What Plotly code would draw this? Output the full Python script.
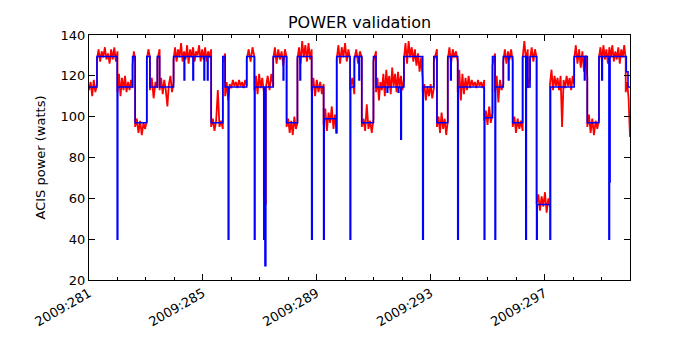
import numpy as np
import plotly.graph_objects as go

# ---- data ----
tick_days = [281, 285, 289, 293, 297]
tick_text = ["2009:281", "2009:285", "2009:289", "2009:293", "2009:297"]

# blue: model step line (day of year, watts)
blue_t = [281.00, 281.28, 281.99, 282.01, 282.53, 282.62, 283.03, 283.14, 283.40, 283.48,
          283.97, 284.34, 284.36, 284.65, 284.67, 285.04, 285.06, 285.16, 285.18, 285.29,
          285.70, 285.78, 285.89, 285.91, 286.54, 286.81, 286.83, 287.14, 287.16, 287.18,
          287.21, 287.47, 287.82, 287.84, 287.94, 288.32, 288.41, 288.43, 288.82, 288.84,
          289.24, 289.26, 289.68, 289.70, 290.17, 290.19, 290.32, 290.48, 290.50, 290.58,
          290.99, 291.08, 291.47, 291.49, 291.86, 291.88, 291.95, 291.97, 292.06, 292.72,
          292.74, 293.11, 293.22, 293.60, 293.70, 293.72, 293.95, 293.97, 294.88, 294.90,
          295.17, 295.26, 295.28, 295.55, 295.73, 295.75, 295.88, 296.23, 296.34, 296.36,
          296.41, 296.49, 296.72, 296.74, 297.19, 297.21, 298.04, 298.40, 298.42, 298.50,
          298.91, 299.01, 299.03, 299.26, 299.28, 299.30, 299.87, 299.93, 300.00]
blue_v = [114.5, 129.5, 40, 114.5, 129.5, 97, 129.5, 114.5, 129.5, 114.5,
          129.5, 118, 129.5, 118, 129.5, 118, 129.5, 118, 129.5, 97,
          129.5, 114.5, 40, 114.5, 129.5, 40, 114.5, 40, 114.5, 27,
          114.5, 129.5, 118, 129.5, 97, 129.5, 118, 129.5, 40, 114.5,
          40, 99, 92, 129.5, 40, 114.5, 129.5, 118, 129.5, 97,
          129.5, 114.5, 112, 114.5, 112, 114.5, 89, 114.5, 129.5, 40,
          114.5, 129.5, 97, 129.5, 118, 129.5, 40, 114.5, 40, 99.5,
          129.5, 40, 114.5, 129.5, 118, 129.5, 97, 129.5, 40, 129.5,
          114.5, 129.5, 40, 57, 40, 114.5, 129.5, 118, 129.5, 97,
          129.5, 118, 129.5, 40, 68, 129.5, 122, 114.5, 114.5]

# red: measured power, read segment by segment (segment bounds in days,
# then the sampled watt readings inside each segment)
red_bounds = [281.00, 281.28, 282.00, 282.53, 282.62, 283.03, 283.14, 283.40, 283.48, 283.97,
              285.29, 285.70, 285.78, 286.54, 286.81, 287.14, 287.21, 287.47, 287.94, 288.32,
              288.82, 289.24, 289.70, 290.17, 290.32, 290.58, 290.99, 291.08, 292.06, 292.72,
              293.11, 293.22, 293.60, 293.95, 294.88, 295.17, 295.26, 295.55, 295.88, 296.23,
              296.41, 296.49, 296.72, 297.19, 298.04, 298.50, 298.91, 299.85, 300.00]
red_vals = [
    [113, 117, 110, 118, 112, 116],
    [128, 133, 127, 132, 129, 134, 128, 131, 126, 133, 128, 134, 127, 132],
    [112, 121, 110, 119, 113, 120, 112, 117, 113, 118, 114],
    [125, 132, 128],
    [95, 99, 92, 98, 91, 97, 94, 98],
    [128, 133, 129],
    [113, 119, 109, 117, 114],
    [128, 133],
    [113, 119, 111, 118, 113, 105, 116, 120, 112, 117],
    [128, 134, 127, 133, 129, 136, 127, 132, 128, 135, 126, 133, 129, 134, 127, 132,
     130, 135, 127, 133, 128, 134, 127, 132, 129, 133],
    [95, 99, 93, 98, 113, 95, 98, 94],
    [126, 131],
    [110, 117, 108, 116, 114, 118, 115, 117, 114, 118, 115, 117, 114, 118, 115],
    [128, 133, 127, 134, 129],
    [113, 120, 111, 121, 114, 119, 112],
    [60, 57],
    [114, 120, 113, 121, 115],
    [128, 134, 126, 133, 128, 132, 125, 133, 129],
    [95, 99, 92, 98, 91, 100, 94, 97],
    [128, 134, 126, 137, 129, 135, 127, 136, 128, 133],
    [113, 119, 110, 118, 112, 117, 111, 116],
    [96, 104, 93, 102, 97, 105, 94, 101, 92],
    [128, 135, 126, 134, 129, 136, 127, 133, 128],
    [113, 119, 111],
    [128, 133, 126, 132, 129],
    [95, 99, 93, 106, 94, 98, 92, 99],
    [127, 132],
    [112, 119, 108, 117, 113, 121, 110, 123, 114, 120, 111, 124, 115, 121, 112, 122,
     114, 120, 113, 118],
    [128, 136, 126, 137, 129, 134, 127, 133, 125, 131, 122, 129, 118],
    [112, 116, 108, 115, 110, 116, 109, 114],
    [127, 133],
    [95, 100, 92, 102, 94, 99, 91, 98],
    [128, 134, 126, 133, 129, 132, 127],
    [112, 123, 108, 121, 111, 119, 113, 120, 114, 118, 115, 117, 114, 118, 115, 117, 114, 118],
    [98, 103, 96, 105, 97, 102],
    [125, 131],
    [112, 120, 107, 118, 113, 116],
    [127, 133, 126, 132, 128, 133, 127],
    [95, 100, 92, 99, 94, 98, 93],
    [129, 137, 127, 133],
    [114, 119],
    [128, 134, 127, 133, 129],
    [57, 62, 54, 61, 56, 63, 53, 60, 56],
    [116, 123, 113, 120, 115, 119, 113, 120, 95, 118, 114, 120, 115, 119, 113, 120, 116],
    [128, 135, 126, 133, 124, 132, 122, 130, 119],
    [95, 101, 92, 99, 91, 98, 94, 99],
    [129, 134, 127, 135, 128, 133, 126, 134, 129, 135, 127, 132, 128, 134, 126, 133,
     129, 135, 128],
    [112, 117, 109, 90],
]

# sample times within each segment (evenly spaced telemetry samples)
red_x, red_y = [], []
for i, vals in enumerate(red_vals):
    ts = np.linspace(red_bounds[i], red_bounds[i + 1], len(vals))
    red_x.extend(ts.tolist())
    red_y.extend(vals)

RED = "#ff0000"
BLUE = "#0000ff"

fig = go.Figure()
fig.add_trace(go.Scatter(x=red_x, y=red_y, mode="lines",
                         line=dict(color=RED, width=1.8), hoverinfo="skip",
                         showlegend=False))
fig.add_trace(go.Scatter(x=blue_t, y=blue_v, mode="lines",
                         line=dict(color=BLUE, width=1.6, shape="hv"),
                         showlegend=False))

font = "DejaVu Sans, Bitstream Vera Sans, sans-serif"
fig.update_layout(
    width=700, height=350,
    margin=dict(l=89, r=70, t=35, b=70, autoexpand=False),
    paper_bgcolor="white", plot_bgcolor="white",
    font=dict(family=font, size=13, color="black"),
    title=dict(text="POWER validation", x=0.5, xref="paper", xanchor="center",
               y=0.937, yref="container", yanchor="middle",
               font=dict(family=font, size=16, color="black")),
)
fig.update_xaxes(
    range=[281, 300], tickmode="array", tickvals=tick_days, ticktext=tick_text,
    tickangle=-30, ticks="inside", ticklen=6, tickcolor="black",
    minor=dict(dtick=1, tick0=281, ticks="inside", ticklen=3, tickcolor="black"),
    showline=True, linecolor="black", linewidth=1, mirror="allticks",
    showgrid=False, zeroline=False, tickfont=dict(size=13), automargin=False,
)
fig.update_yaxes(
    range=[20, 140], dtick=20, tick0=20, ticks="inside", ticklen=6, tickcolor="black",
    showline=True, linecolor="black", linewidth=1, mirror="allticks",
    showgrid=False, zeroline=False, tickfont=dict(size=13), automargin=False,
    title=dict(text="ACIS power (watts)", font=dict(size=13), standoff=12),
)

fig.write_html("out.html", config={"displayModeBar": False},
               post_script="document.body.style.margin='0';document.body.style.overflow='hidden';")
